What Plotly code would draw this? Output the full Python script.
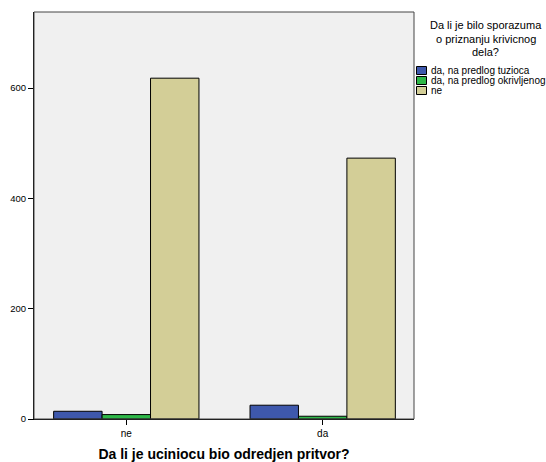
import plotly.graph_objects as go

categories = ["ne", "da"]
series_names = ["da, na predlog tuzioca", "da, na predlog okrivljenog", "ne"]
values_tuzioca = [14, 25]
values_okrivljenog = [8, 5]
values_ne = [618, 473]
colors = ["#3E58AC", "#2EB848", "#D3CE97"]
y_ticks = [0, 200, 400, 600]
legend_title_lines = ["Da li je bilo sporazuma", "o priznanju krivicnog", "dela?"]
x_title = "Da li je uciniocu bio odredjen pritvor?"

FONT = "Liberation Sans, Arial, sans-serif"
W, H = 546, 462
L, R, T, B = 34, 132, 12, 43
PW, PH = W - L - R, H - T - B


def px_x(px):
    return (px - L) / PW


def px_y(py):
    return (H - B - py) / PH


fig = go.Figure()
for name, vals, col in zip(series_names, [values_tuzioca, values_okrivljenog, values_ne], colors):
    fig.add_trace(go.Bar(
        x=categories, y=vals, name=name,
        marker=dict(color=col, line=dict(color="black", width=1)),
    ))

shapes = [dict(type="rect", xref="paper", yref="paper", x0=0, x1=1, y0=0, y1=1,
               line=dict(color="#444444", width=1), fillcolor="rgba(0,0,0,0)", layer="above")]
annotations = []

# legend title
for i, line in enumerate(legend_title_lines):
    annotations.append(dict(text=line, xref="paper", yref="paper", x=px_x(485.5), y=px_y(25 + 13.5 * i),
                            xanchor="center", yanchor="middle", showarrow=False,
                            font=dict(size=11, family=FONT, color="black")))

# legend items
for i, (name, col) in enumerate(zip(series_names, colors)):
    cy = 70.5 + 10 * i
    shapes.append(dict(type="rect", xref="paper", yref="paper",
                       x0=px_x(416.5), x1=px_x(426.5), y0=px_y(cy - 4), y1=px_y(cy + 4),
                       line=dict(color="black", width=1), fillcolor=col))
    annotations.append(dict(text=name, xref="paper", yref="paper", x=px_x(428.5), y=px_y(cy),
                            xanchor="left", yanchor="middle", showarrow=False,
                            font=dict(size=10, family=FONT, color="black")))

fig.update_layout(
    width=W, height=H,
    margin=dict(l=L, r=R, t=T, b=B, autoexpand=False),
    paper_bgcolor="white", plot_bgcolor="#F0F0F0",
    barmode="group", bargap=0.26, bargroupgap=0,
    font=dict(family=FONT, size=10, color="black"),
    showlegend=False,
    xaxis=dict(
        range=[-0.47, 1.465], showline=True, linecolor="black", linewidth=1,
        ticks="outside", ticklen=5, tickcolor="black",
        tickfont=dict(size=10, family=FONT),
        title=dict(text="<b>" + x_title + "</b>", font=dict(size=14, family=FONT), standoff=12),
        showgrid=False, zeroline=False, automargin=False,
    ),
    yaxis=dict(
        range=[0, 738], showline=True, linecolor="black", linewidth=1,
        ticks="outside", ticklen=5, tickcolor="black",
        tickvals=y_ticks, tickfont=dict(size=9.5, family=FONT),
        showgrid=False, zeroline=False, automargin=False,
    ),
    shapes=shapes,
    annotations=annotations,
)

fig.write_html("out.html", config={"displayModeBar": False},
               post_script="document.body.style.margin='0';document.body.style.padding='0';")
